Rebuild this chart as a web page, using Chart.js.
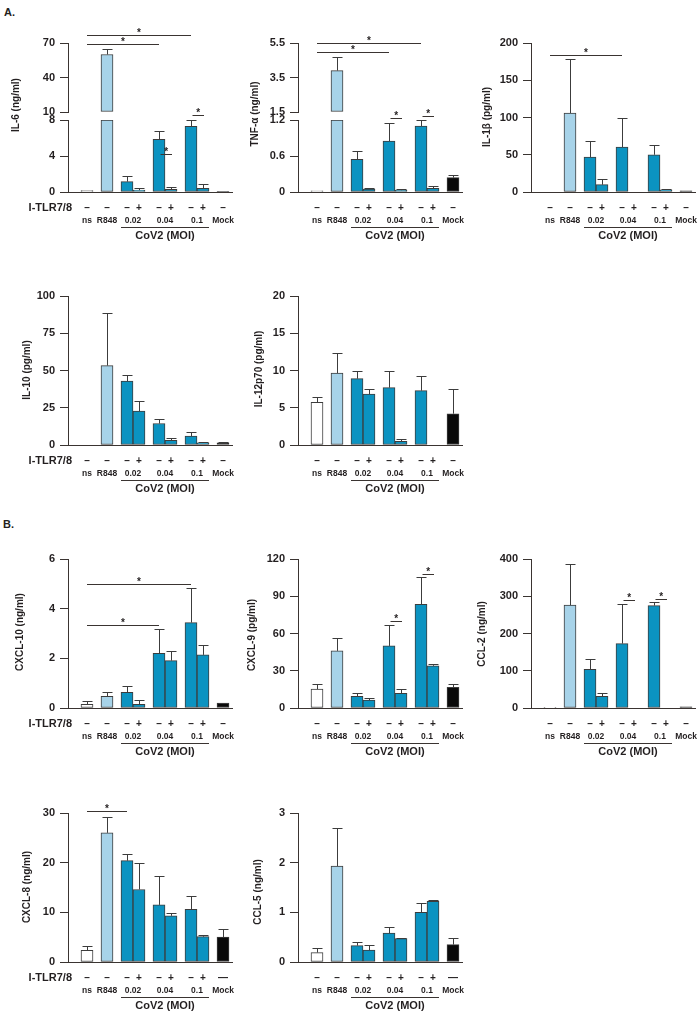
<!DOCTYPE html>
<html>
<head>
<meta charset="utf-8">
<script src="https://cdn.jsdelivr.net/npm/chart.js@4.4.1/dist/chart.umd.min.js"></script>
<style>
  body { margin:0; background:#fff; overflow:hidden; }
  #fig { position:relative; width:700px; height:1012px; }
  #fig canvas { position:absolute; }
  .tag { position:absolute; font:bold 11px 'Liberation Sans', Arial, sans-serif; color:#231f20; }
</style>
</head>
<body>
<div id="fig">
  <div class="tag" style="left:4px;top:6px">A.</div>
  <div class="tag" style="left:3px;top:518px">B.</div>
</div>
<script>
// ─── Data ─────────────────────────────────────────────────────────────────────

const barLabels  = ['ns','R848','0.02 −','0.02 +','0.04 −','0.04 +','0.1 −','0.1 +','Mock'];
const groupNames = ['ns','R848','0.02','0.04','0.1','Mock'];
const groupSizes = [1,1,2,2,2,1];
const tlrSigns   = ['–','–','–','+','–','+','–','+','–'];

// IL-6 (broken axis)
const il6Mean      = [0.15, 60, 1.15, 0.2, 5.85, 0.3, 7.3, 0.4, 0.05];
const il6Err       = [0, 5, 0.65, 0.3, 0.95, 0.3, 0.7, 0.45, 0];
const il6LowTicks  = [0, 4, 8];
const il6HighTicks = [10, 40, 70];
const il6Sig       = [[0,4,69],[0,6,77],[4,5,4.2],[6,7,9.25]];

// TNF-α (broken axis)
const tnfMean      = [0.02, 3.9, 0.545, 0.05, 0.85, 0.03, 1.1, 0.06, 0.24];
const tnfErr       = [0, 0.8, 0.145, 0.025, 0.3, 0.02, 0.1, 0.035, 0.04];
const tnfLowTicks  = [0, 0.6, 1.2];
const tnfHighTicks = [1.5, 3.5, 5.5];
const tnfSig       = [[0,4,4.96],[0,6,5.52],[4,5,1.26],[6,7,1.35]];

// IL-1β
const il1bMean  = [0, 106, 47, 9.8, 60.4, 0, 50, 3, 1.5];
const il1bErr   = [0, 72, 21, 8, 38.6, 0, 12.6, 1, 0];
const il1bTicks = [0, 50, 100, 150, 200];
const il1bSig   = [[0,4,184]];

// IL-10
const il10Mean  = [0, 53.3, 42.9, 22.7, 14.4, 3.1, 6, 1.5, 1.5];
const il10Err   = [0, 35.6, 4.2, 6.6, 3.2, 1.8, 2.9, 0.5, 0.5];
const il10Ticks = [0, 25, 50, 75, 100];

// IL-12p70
const il12Mean  = [5.73, 9.64, 8.9, 6.84, 7.7, 0.5, 7.3, 0, 4.2];
const il12Err   = [0.77, 2.66, 0.97, 0.66, 2.17, 0.25, 1.9, 0, 3.3];
const il12Ticks = [0, 5, 10, 15, 20];

// CXCL-10
const cxcl10Mean  = [0.15, 0.47, 0.63, 0.15, 2.2, 1.91, 3.44, 2.14, 0.2];
const cxcl10Err   = [0.12, 0.19, 0.24, 0.17, 0.97, 0.39, 1.39, 0.39, 0.02];
const cxcl10Ticks = [0, 2, 4, 6];
const cxcl10Sig   = [[0,4,3.33],[0,6,5.0]];

// CXCL-9
const cxcl9Mean  = [15.2, 46, 9.4, 6.4, 50, 11.8, 83.4, 34, 16.6];
const cxcl9Err   = [4.1, 10.7, 2.4, 1.4, 16.6, 3.4, 22.2, 1.8, 2.7];
const cxcl9Ticks = [0, 30, 60, 90, 120];
const cxcl9Sig   = [[4,5,70],[6,7,108]];

// CCL-2
const ccl2Mean  = [2, 276, 104, 31, 173, 0, 275, 0, 3];
const ccl2Err   = [0, 111, 27, 8, 105, 0, 10, 0, 0];
const ccl2Ticks = [0, 100, 200, 300, 400];
const ccl2Sig   = [[4,5,291],[6,7,293]];

// CXCL-8
const cxcl8Mean  = [2.34, 26, 20.4, 14.6, 11.5, 9.3, 10.6, 5.1, 5];
const cxcl8Err   = [0.93, 3.1, 1.3, 5.4, 5.8, 0.65, 2.6, 0.4, 1.7];
const cxcl8Ticks = [0, 10, 20, 30];
const cxcl8Sig   = [[0,2,30.5]];

// CCL-5
const ccl5Mean  = [0.19, 1.93, 0.33, 0.24, 0.58, 0.47, 1.0, 1.22, 0.35];
const ccl5Err   = [0.09, 0.76, 0.08, 0.11, 0.12, 0.02, 0.18, 0.03, 0.13];
const ccl5Ticks = [0, 1, 2, 3];

// ─── Layout / style ───────────────────────────────────────────────────────────

const FONT  = "'Liberation Sans', Arial, Helvetica, sans-serif";
const INK   = '#3a3431';
const TEXT  = '#231f20';
const EDGE  = '#3c3c3c';
const LIGHT = '#a7d3e9';
const BLUE  = '#0b93c1';
const barFill = ['#ffffff', LIGHT, BLUE, BLUE, BLUE, BLUE, BLUE, BLUE, '#0a0a0a'];

const COLS = [68, 298, 531];        // y-axis x per column
const ROWS = [43, 296, 559, 813];   // top tick y per row
const AXIS_W = 68, PLOT_W = 164, RIGHT_PAD = 10, CH = 240, TOP_PAD = 40;
const CW = AXIS_W + PLOT_W + RIGHT_PAD;
const PLOT_H = 149, UPPER_H = 69, LOWER_H = 72;
const X_MIN = -19, X_MAX = 145;

// bar x positions: 12 within a pair, 20 between groups
const barPos = [], groupCenters = [];
{
  let x = 0;
  groupSizes.forEach((n, g) => {
    if (g) x += 8;
    const first = x;
    for (let k = 0; k < n; k++) { barPos.push(x); x += 12; }
    groupCenters.push((first + x - 12) / 2);
  });
}

const panels = [
  { title:'IL-6 (ng/ml)',     col:0, row:0, mean:il6Mean,    err:il6Err,    ticks:il6LowTicks, high:il6HighTicks, sig:il6Sig,    tOff:52, tDy:62, rowLabel:true },
  { title:'TNF-α (ng/ml)',    col:1, row:0, mean:tnfMean,    err:tnfErr,    ticks:tnfLowTicks, high:tnfHighTicks, sig:tnfSig,    tOff:43, tDy:71 },
  { title:'IL-1β (pg/ml)',    col:2, row:0, mean:il1bMean,   err:il1bErr,   ticks:il1bTicks,   sig:il1bSig,   tOff:44, tDy:74 },
  { title:'IL-10 (pg/ml)',    col:0, row:1, mean:il10Mean,   err:il10Err,   ticks:il10Ticks,   sig:[],        tOff:41, tDy:74, rowLabel:true },
  { title:'IL-12p70 (pg/ml)', col:1, row:1, mean:il12Mean,   err:il12Err,   ticks:il12Ticks,   sig:[],        tOff:39, tDy:73 },
  { title:'CXCL-10 (ng/ml)',  col:0, row:2, mean:cxcl10Mean, err:cxcl10Err, ticks:cxcl10Ticks, sig:cxcl10Sig, tOff:48, tDy:73, rowLabel:true },
  { title:'CXCL-9 (pg/ml)',   col:1, row:2, mean:cxcl9Mean,  err:cxcl9Err,  ticks:cxcl9Ticks,  sig:cxcl9Sig,  tOff:46, tDy:76 },
  { title:'CCL-2 (ng/ml)',    col:2, row:2, mean:ccl2Mean,   err:ccl2Err,   ticks:ccl2Ticks,   sig:ccl2Sig,   tOff:49, tDy:75 },
  { title:'CXCL-8 (ng/ml)',   col:0, row:3, mean:cxcl8Mean,  err:cxcl8Err,  ticks:cxcl8Ticks,  sig:cxcl8Sig,  tOff:41, tDy:74, rowLabel:true, longMock:true },
  { title:'CCL-5 (ng/ml)',    col:1, row:3, mean:ccl5Mean,   err:ccl5Err,   ticks:ccl5Ticks,   sig:[],        tOff:40, tDy:79, longMock:true },
];

// ─── Drawing plugin ───────────────────────────────────────────────────────────

function yPix(p, chart, v) {
  const lo = chart.scales.y;
  if (!p.high) return lo.getPixelForValue(v);
  const hi = p.upperChart.scales.y;
  if (v <= lo.max) return lo.getPixelForValue(v);
  if (v >= hi.min) return hi.getPixelForValue(v);
  const t = (v - lo.max) / (hi.min - lo.max);
  return lo.top + (hi.bottom - lo.top) * t;
}

const figPlugin = {
  id: 'figDecor',
  afterDatasetsDraw(chart) {
    const p = chart.canvas.panel, role = chart.canvas.role;
    const ys = chart.scales.y, meta = chart.getDatasetMeta(0), ctx = chart.ctx;
    ctx.save();
    ctx.strokeStyle = EDGE; ctx.lineWidth = 1;
    p.mean.forEach((v, i) => {
      const e = p.err[i];
      if (!e) return;
      if (role === 'upper' ? v <= ys.min : v > ys.max) return;
      const el = meta.data[i];
      const x = Math.round(el.x) + 0.5, y1 = Math.round(ys.getPixelForValue(v + e)) + 0.5;
      ctx.beginPath();
      ctx.moveTo(x, el.y); ctx.lineTo(x, y1);
      ctx.moveTo(x - 5, y1); ctx.lineTo(x + 5, y1);
      ctx.stroke();
    });
    ctx.restore();
  },
  afterDraw(chart) {
    const p = chart.canvas.panel, role = chart.canvas.role;
    if (role === 'upper') return;
    const ctx = chart.ctx, xs = chart.scales.x;
    const zeroY = chart.scales.y.getPixelForValue(0);
    const px = v => xs.getPixelForValue(v);
    ctx.save();
    ctx.fillStyle = TEXT; ctx.strokeStyle = INK; ctx.lineWidth = 1;
    ctx.textAlign = 'center'; ctx.textBaseline = 'middle';

    // I-TLR7/8 row
    ctx.font = `bold 10px ${FONT}`;
    tlrSigns.forEach((s, i) => {
      const sign = (p.longMock && i === tlrSigns.length - 1) ? '—' : s;
      ctx.fillText(sign, px(barPos[i]), zeroY + 16);
    });
    if (p.rowLabel) {
      ctx.font = `bold 11px ${FONT}`;
      ctx.textAlign = 'right';
      ctx.fillText('I-TLR7/8', xs.left + 4, zeroY + 16);
      ctx.textAlign = 'center';
    }
    // condition names
    ctx.font = `bold 8.5px ${FONT}`;
    groupNames.forEach((g, k) => ctx.fillText(g, px(groupCenters[k]), zeroY + 29));
    // CoV2 underline + label
    const u0 = Math.round(px(barPos[2]) - 6), u1 = Math.round(px(barPos[7]) + 6);
    const uy = Math.round(zeroY + 35) + 0.5;
    ctx.beginPath(); ctx.moveTo(u0, uy); ctx.lineTo(u1, uy); ctx.stroke();
    ctx.font = `bold 11px ${FONT}`;
    ctx.fillText('CoV2 (MOI)', (u0 + u1) / 2, zeroY + 44);

    // y title
    ctx.save();
    ctx.translate(xs.left - p.tOff, TOP_PAD + p.tDy);
    ctx.rotate(-Math.PI / 2);
    ctx.font = `bold 10px ${FONT}`;
    ctx.fillText(p.title, 0, 0);
    ctx.restore();

    // significance bars
    ctx.font = `bold 10px ${FONT}`;
    p.sig.forEach(([a, b, v]) => {
      const short = b - a === 1;
      const x0 = px(barPos[a]) + (short ? 1.5 : 0), x1 = px(barPos[b]) + (short ? 1 : 0);
      const y = Math.round(yPix(p, chart, v)) + 0.5;
      ctx.beginPath(); ctx.moveTo(x0, y); ctx.lineTo(x1, y); ctx.stroke();
      ctx.textBaseline = 'alphabetic';
      ctx.fillText('*', (x0 + x1) / 2, y + 0.5);
      ctx.textBaseline = 'middle';
    });
    ctx.restore();
  }
};

// ─── Build charts ─────────────────────────────────────────────────────────────

Chart.defaults.font.family = FONT;
const fig = document.getElementById('fig');

function makeChart(p, role) {
  const cv = document.createElement('canvas');
  cv.width = CW; cv.height = CH;
  cv.style.left = (COLS[p.col] - AXIS_W) + 'px';
  cv.style.top  = (ROWS[p.row] - TOP_PAD) + 'px';
  cv.panel = p; cv.role = role;
  fig.appendChild(cv);

  const ticks = role === 'upper' ? p.high : p.ticks;
  const yMin = ticks[0], yMax = ticks[ticks.length - 1];
  let pad;
  if (role === 'upper')      pad = { top: TOP_PAD, bottom: CH - TOP_PAD - UPPER_H };
  else if (role === 'lower') pad = { top: TOP_PAD + PLOT_H - LOWER_H, bottom: CH - TOP_PAD - PLOT_H };
  else                       pad = { top: TOP_PAD, bottom: CH - TOP_PAD - PLOT_H };

  const pts = p.mean.map((v, i) => ({
    x: barPos[i],
    y: role === 'upper' ? (v > yMin ? v : null) : Math.min(v, yMax),
  }));

  const ds = {
    label: p.title, data: pts,
    backgroundColor: barFill, borderColor: EDGE, borderWidth: 1,
    borderSkipped: false, barThickness: 12,
  };
  if (role === 'upper') ds.base = yMin;

  return new Chart(cv, {
    type: 'bar',
    data: { datasets: [ds] },
    options: {
      responsive: false, animation: false, events: [],
      layout: { padding: { top: pad.top, bottom: pad.bottom, left: 0, right: RIGHT_PAD } },
      plugins: { legend: { display: false }, tooltip: { enabled: false } },
      scales: {
        x: {
          type: 'linear', min: X_MIN, max: X_MAX, offset: false,
          afterFit: s => { s.height = 0; },
          grid: { display: false }, ticks: { display: false },
          border: { display: role !== 'upper', color: INK, width: 1 },
        },
        y: {
          min: yMin, max: yMax,
          afterBuildTicks: s => { s.ticks = ticks.map(v => ({ value: v })); },
          afterFit: s => { s.width = AXIS_W; },
          grid: { drawOnChartArea: false, drawTicks: true, tickLength: 8, color: INK, lineWidth: 1 },
          border: { color: INK, width: 1 },
          ticks: { color: TEXT, padding: 5, font: { size: 11, weight: 'bold' }, callback: v => String(v) },
        },
      },
    },
    plugins: [figPlugin],
  });
}

panels.forEach(p => {
  if (p.high) {
    p.upperChart = makeChart(p, 'upper');
    p.chart = makeChart(p, 'lower');
  } else {
    p.chart = makeChart(p, 'full');
  }
});
</script>
</body>
</html>
